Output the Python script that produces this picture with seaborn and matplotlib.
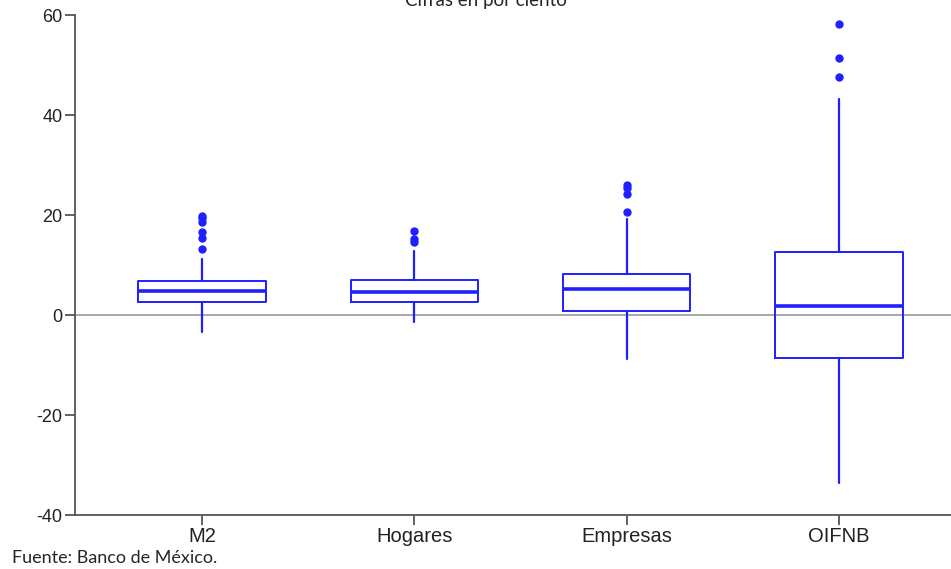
import matplotlib
matplotlib.use("Agg")
import matplotlib.pyplot as plt
import seaborn as sns

# -------------------------
# DATA (per cent)
# -------------------------
categories = ["M2", "Hogares", "Empresas", "OIFNB"]
whisker_low = [-3.3, -1.3, -8.7, -33.6]
q1 = [2.7, 2.6, 0.9, -8.6]
median = [4.8, 4.7, 5.2, 1.8]
q3 = [6.8, 7.0, 8.2, 12.6]
whisker_high = [11.2, 12.8, 19.2, 43.2]
outliers = [
    [13.3, 15.4, 16.6, 18.7, 19.4, 19.8],
    [14.7, 15.2, 16.8],
    [20.6, 24.2, 25.4, 26.1],
    [47.7, 51.4, 58.3],
]
y_ticks = [-40, -20, 0, 20, 40, 60]

BLUE = "#1f1fff"
AXIS = "#555555"
TICK_FONT = ["Liberation Sans", "DejaVu Sans"]
NOTE_FONT = ["Lato", "DejaVu Sans"]


# -------------------------
# BOX STATS
# -------------------------
def build_stats():
    stats = []
    for i, name in enumerate(categories):
        stats.append({
            "label": name,
            "whislo": whisker_low[i],
            "q1": q1[i],
            "med": median[i],
            "q3": q3[i],
            "whishi": whisker_high[i],
            "fliers": outliers[i],
        })
    return stats


# -------------------------
# PLOT
# -------------------------
def plot_boxes():
    sns.set_style("ticks")
    plt.rcParams["font.family"] = TICK_FONT

    fig = plt.figure(figsize=(9.51, 5.69), dpi=100)
    ax = fig.add_axes([75 / 951, 1 - 515 / 569, 1 - 75 / 951, 500 / 569])

    ax.axhline(0, color="#a0a0a0", lw=1.3, zorder=1)

    ax.bxp(
        build_stats(),
        positions=range(len(categories)),
        widths=0.6,
        showcaps=False,
        patch_artist=False,
        boxprops=dict(color=BLUE, lw=1.4),
        whiskerprops=dict(color=BLUE, lw=1.6),
        medianprops=dict(color=BLUE, lw=2.6),
        flierprops=dict(marker="o", markerfacecolor=BLUE, markeredgecolor=BLUE,
                        markersize=5),
        zorder=3,
    )

    ax.set_xlim(-0.598, 3.527)
    ax.set_ylim(-40, 60)
    ax.set_yticks(y_ticks)
    ax.set_yticklabels([str(t) for t in y_ticks], fontsize=13, color="#222222",
                       family=TICK_FONT)
    ax.set_xticks(range(len(categories)))
    ax.set_xticklabels(categories, fontsize=14.5, color="#222222", family=TICK_FONT)

    sns.despine(ax=ax)
    for side in ["left", "bottom"]:
        ax.spines[side].set_color(AXIS)
        ax.spines[side].set_linewidth(1.3)
    ax.tick_params(axis="both", direction="out", length=7, width=1.3, color=AXIS, pad=2)

    fig.text(486 / 951, 1 - 6 / 569, "Cifras en por ciento", ha="center",
             va="baseline", fontsize=13.5, family=NOTE_FONT)
    fig.text(12 / 951, 1 - 563 / 569, "Fuente: Banco de México.", ha="left",
             va="baseline", fontsize=13, family=NOTE_FONT)

    fig.savefig("out.png", dpi=100)


if __name__ == "__main__":
    plot_boxes()
